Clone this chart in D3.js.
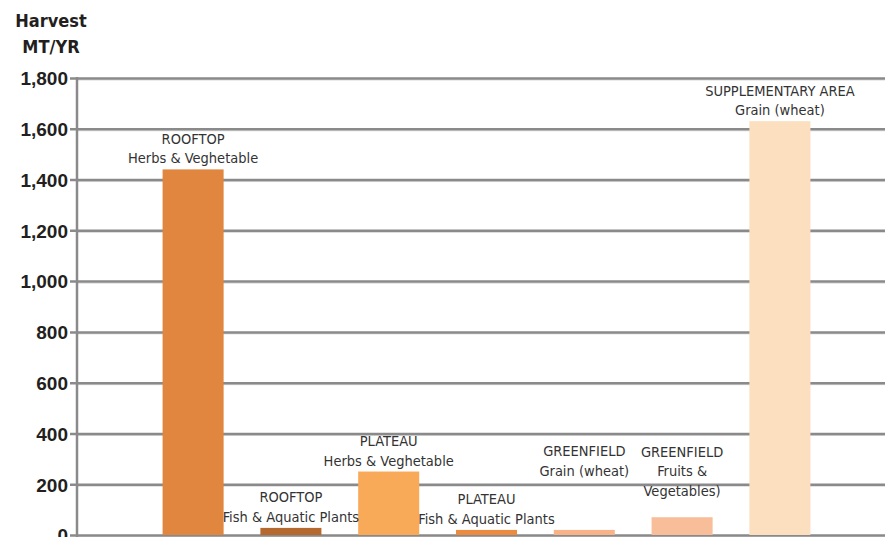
<!DOCTYPE html>
<html>
<head>
<meta charset="utf-8">
<script src="https://cdn.jsdelivr.net/npm/d3@7"></script>
<style>
  body { margin: 0; background: #fff; }
  svg { display: block; font-family: "Liberation Sans Narrow", "DejaVu Sans Condensed", "Liberation Sans", sans-serif; }
</style>
</head>
<body>
<div id="chart"></div>
<script>
// categories and harvest values (MT/YR)
const categories = ['roofHerbs', 'roofFish', 'platHerbs', 'platFish', 'greenGrain', 'greenFruit', 'suppGrain'];
const values = [1440, 28, 250, 20, 20, 70, 1630];
const labels = [
  ['ROOFTOP', 'Herbs & Veghetable'],
  ['ROOFTOP', 'Fish & Aquatic Plants'],
  ['PLATEAU', 'Herbs & Veghetable'],
  ['PLATEAU', 'Fish & Aquatic Plants'],
  ['GREENFIELD', 'Grain (wheat)'],
  ['GREENFIELD', 'Fruits &', 'Vegetables)'],
  ['SUPPLEMENTARY AREA', 'Grain (wheat)']
];
// value the label block sits on (defaults to the bar value)
const labelAt = [1440, 28, 250, 20, 210, 130, 1630];
const colors = ['#e0863e', '#b5692e', '#f8aa58', '#ec8b3d', '#f8b488', '#f8be9a', '#fcdfbe'];
const yTicks = [0, 200, 400, 600, 800, 1000, 1200, 1400, 1600, 1800];
const titleLines = ['Harvest', 'MT/YR'];

const width = 885, height = 537;
const marginLeft = 77, plotTop = 78, zeroY = 535;

const svg = d3.select('#chart').append('svg')
  .attr('width', width)
  .attr('height', height);

const x = d3.scaleBand()
  .domain(categories)
  .range([marginLeft, 896])
  .paddingInner(0.376)
  .paddingOuter(0.875);

const y = d3.scaleLinear().domain([0, 1800]).range([zeroY, plotTop]);

// light shadow under each gridline
svg.append('g')
  .selectAll('line')
  .data(yTicks)
  .enter()
  .append('line')
  .attr('x1', marginLeft).attr('x2', width)
  .attr('y1', d => y(d) + 2).attr('y2', d => y(d) + 2)
  .attr('stroke', '#d8d8d8')
  .attr('stroke-width', 1);

// gridlines + ticks
const yAxis = svg.append('g')
  .attr('transform', `translate(${marginLeft},0)`)
  .call(d3.axisLeft(y).tickValues(yTicks).tickSize(-(width - marginLeft)).tickPadding(9)
    .tickFormat(d3.format(',')));
yAxis.select('.domain').remove();
yAxis.selectAll('.tick line')
  .attr('x1', -7)
  .attr('stroke', '#8a8a8a')
  .attr('stroke-width', 2.5);
yAxis.selectAll('.tick text')
  .attr('fill', '#231f20')
  .style('font-size', '19px')
  .style('font-weight', 'bold')
  .attr('dy', '0.36em');

// vertical axis line
svg.append('line')
  .attr('x1', marginLeft).attr('x2', marginLeft)
  .attr('y1', y(1800) - 1).attr('y2', zeroY + 2)
  .attr('stroke', '#8a8a8a')
  .attr('stroke-width', 2.5);

// bars
svg.selectAll('rect.bar')
  .data(categories)
  .enter()
  .append('rect')
  .attr('class', 'bar')
  .attr('x', d => x(d))
  .attr('width', x.bandwidth())
  .attr('y', (d, i) => y(values[i]))
  .attr('height', (d, i) => zeroY - y(values[i]))
  .attr('fill', (d, i) => colors[i]);

// bar labels
const lineH = 19.5;
categories.forEach((c, i) => {
  const lines = labels[i];
  const baseY = y(labelAt[i]) - 6;
  const t = svg.append('text')
    .attr('text-anchor', 'middle')
    .attr('fill', '#333')
    .style('font-size', '14.5px');
  lines.forEach((ln, j) => {
    t.append('tspan')
      .attr('x', x(c) + x.bandwidth() / 2)
      .attr('y', baseY - (lines.length - 1 - j) * lineH)
      .text(ln);
  });
});

// axis title
svg.append('text')
  .attr('fill', '#231f20')
  .style('font-size', '18px')
  .style('font-weight', 'bold')
  .selectAll('tspan')
  .data(titleLines)
  .enter()
  .append('tspan')
  .attr('x', 51)
  .attr('text-anchor', 'middle')
  .attr('y', (d, i) => 27 + i * 26)
  .text(d => d);
</script>
</body>
</html>
